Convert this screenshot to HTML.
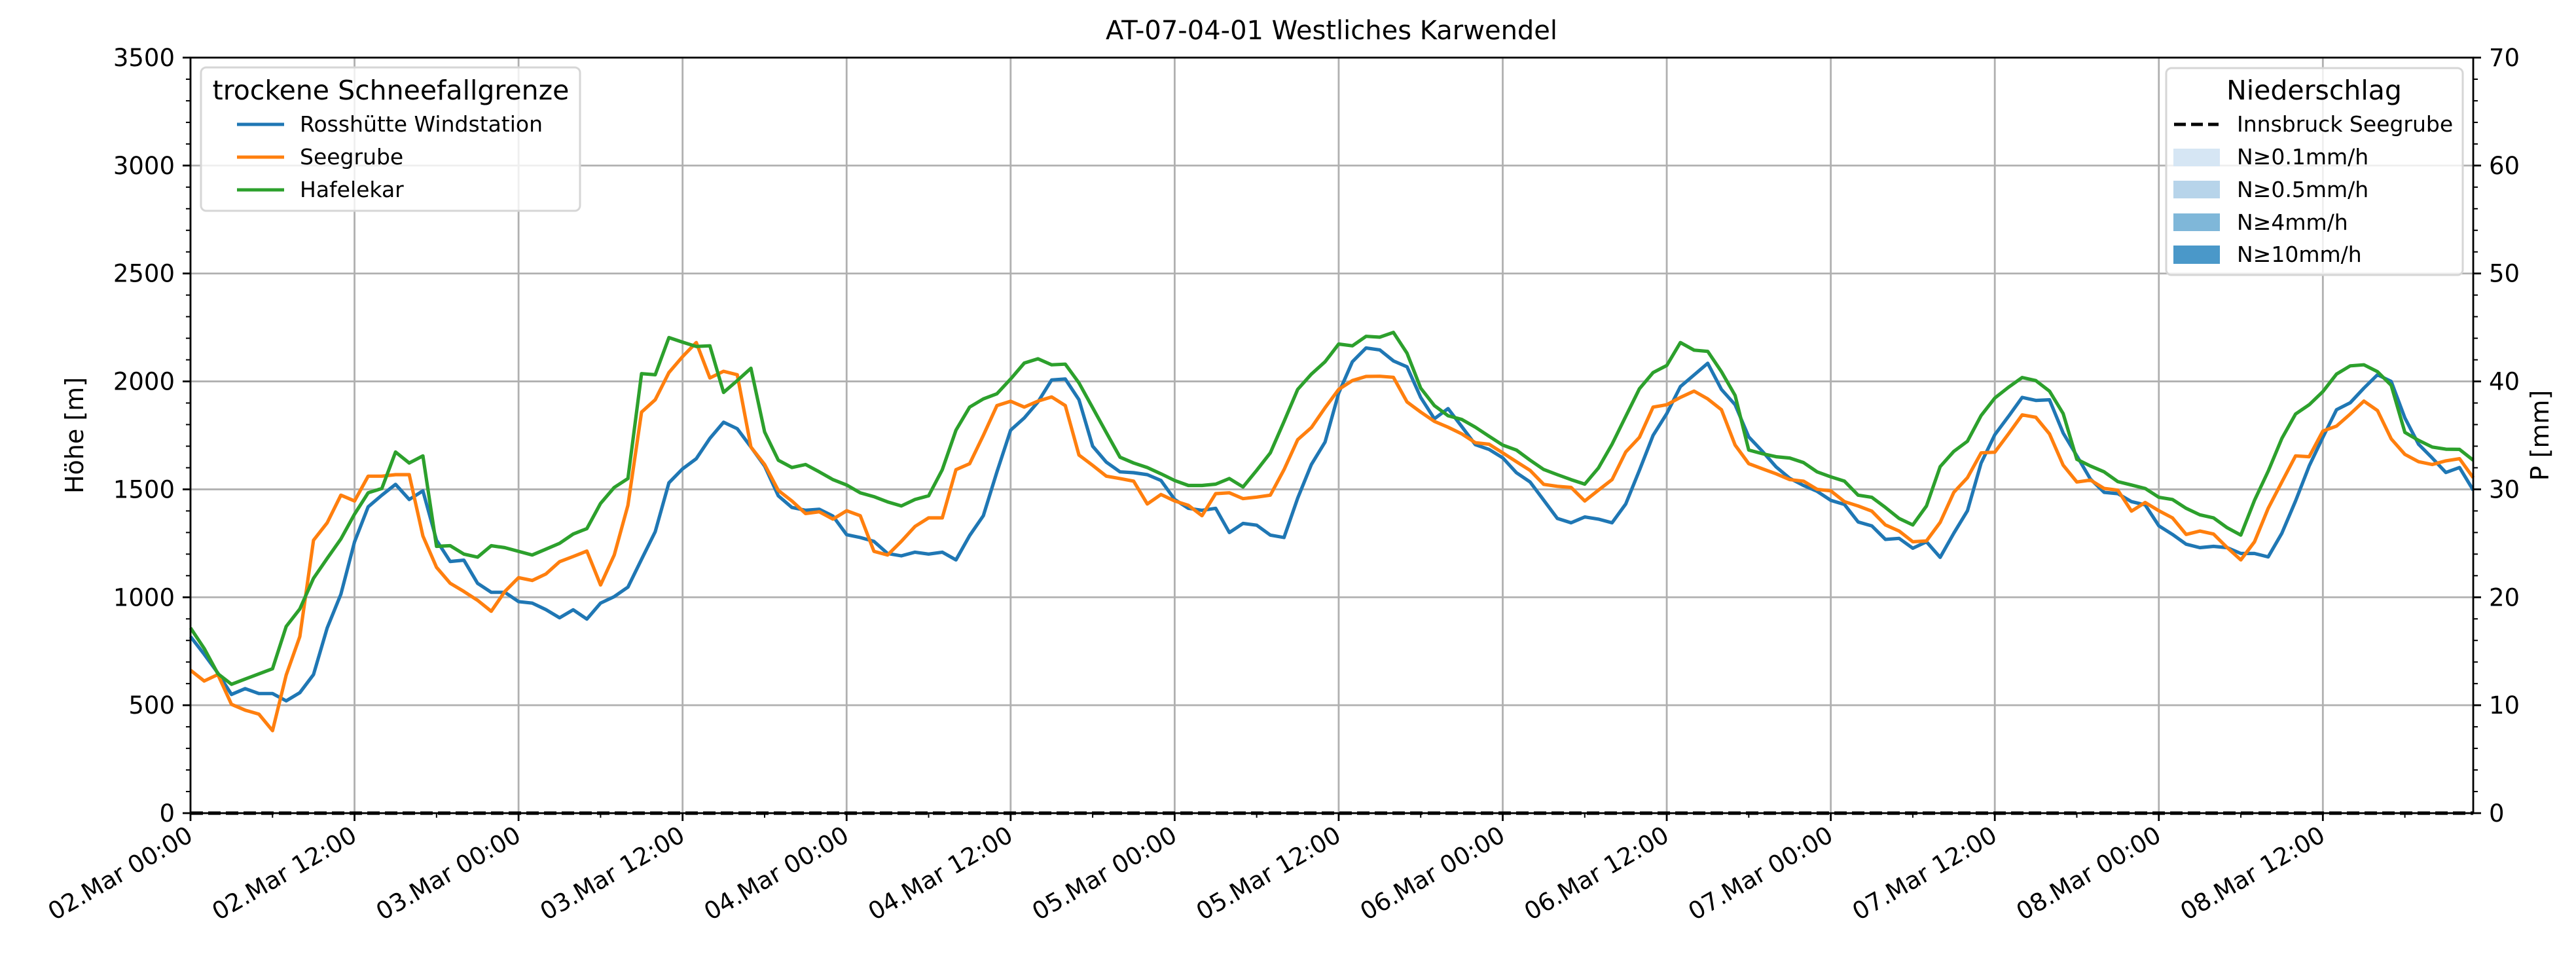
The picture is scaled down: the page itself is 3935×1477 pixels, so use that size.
<!DOCTYPE html>
<html><head><meta charset="utf-8"><title>AT-07-04-01 Westliches Karwendel</title>
<style>
html,body{margin:0;padding:0;background:#fff;}
svg{display:block;font-family:"DejaVu Sans","Liberation Sans",sans-serif;}
</style></head>
<body>
<svg id="chart" width="3935" height="1477" viewBox="0 0 3935 1477" xmlns="http://www.w3.org/2000/svg">
<rect x="0" y="0" width="3935" height="1477" fill="#fff"/>
<g id="grid"></g>
<g id="series"></g>
<g id="axes"></g>
<text x="2034" y="60" font-size="40" text-anchor="middle">AT-07-04-01 Westliches Karwendel</text>
<text x="0" y="0" font-size="38" text-anchor="middle" transform="translate(127,665) rotate(-90)">Höhe [m]</text>
<text x="0" y="0" font-size="38" text-anchor="middle" transform="translate(3893,665) rotate(-90)">P [mm]</text>

<g>
<rect x="307" y="103" width="579" height="219" rx="8" fill="#fff" fill-opacity="0.8" stroke="#d6d6d6" stroke-width="3"/>
<text x="597" y="152" font-size="41" text-anchor="middle">trockene Schneefallgrenze</text>
<g><line x1="362" y1="190" x2="434" y2="190" stroke="#1f77b4" stroke-width="5"/><text x="458" y="201" font-size="33">Rosshütte Windstation</text></g>
<g><line x1="362" y1="240" x2="434" y2="240" stroke="#ff7f0e" stroke-width="5"/><text x="458" y="251" font-size="33">Seegrube</text></g>
<g><line x1="362" y1="290" x2="434" y2="290" stroke="#2ca02c" stroke-width="5"/><text x="458" y="301" font-size="33">Hafelekar</text></g>
</g>

<g>
<rect x="3309" y="104" width="453" height="316" rx="8" fill="#fff" fill-opacity="0.8" stroke="#d6d6d6" stroke-width="3"/>
<text x="3535" y="152" font-size="41" text-anchor="middle">Niederschlag</text>
<g><line x1="3321" y1="190" x2="3389" y2="190" stroke="#000" stroke-width="5" stroke-dasharray="18,8"/><text x="3417" y="201" font-size="33">Innsbruck Seegrube</text></g>
<g><rect x="3320" y="227" width="71" height="27" fill="#d6e6f4"/><text x="3417" y="251" font-size="33">N≥0.1mm/h</text></g>
<g><rect x="3320" y="276" width="71" height="27" fill="#b7d4ea"/><text x="3417" y="301" font-size="33">N≥0.5mm/h</text></g>
<g><rect x="3320" y="326" width="71" height="27" fill="#7fb7d9"/><text x="3417" y="351" font-size="33">N≥4mm/h</text></g>
<g><rect x="3320" y="375" width="71" height="28" fill="#4a98c9"/><text x="3417" y="400" font-size="33">N≥10mm/h</text></g>
</g>
</svg>
<script>
const xTickLabels = ["02.Mar 00:00","02.Mar 12:00","03.Mar 00:00","03.Mar 12:00","04.Mar 00:00","04.Mar 12:00","05.Mar 00:00","05.Mar 12:00","06.Mar 00:00","06.Mar 12:00","07.Mar 00:00","07.Mar 12:00","08.Mar 00:00","08.Mar 12:00"];
const yTicks = [0,500,1000,1500,2000,2500,3000,3500];
const y2Ticks = [0,10,20,30,40,50,60,70];
const rosshuette = [818,736,649,550,577,554,554,520,558,642,858,1014,1257,1419,1473,1523,1453,1493,1264,1166,1172,1065,1023,1023,980,973,943,905,942,899,973,1003,1047,1176,1304,1530,1595,1642,1736,1811,1781,1696,1608,1470,
1416,1403,1408,1376,1290,1277,1259,1203,1192,1209,1200,1209,1173,1286,1378,1581,1774,1831,1905,2007,2011,1915,1700,1626,1581,1577,1568,1541,1453,1412,1403,1412,1300,1342,1334,1288,1277,1459,1615,1719,1946,2091,2155,
2146,2095,2068,1926,1827,1874,1791,1707,1685,1646,1577,1534,1450,1365,1345,1372,1362,1345,1432,1588,1750,1851,1976,2030,2084,1963,1892,1743,1676,1604,1551,1518,1491,1449,1430,1349,1331,1268,1273,1227,1257,1185,1297,
1401,1622,1753,1838,1926,1912,1915,1761,1655,1547,1486,1480,1443,1428,1331,1291,1246,1230,1236,1230,1203,1203,1187,1297,1446,1608,1741,1869,1901,1969,2031,2000,1831,1709,1645,1578,1601,1496];
const seegrube = [662,612,642,504,477,459,382,640,818,1264,1345,1473,1446,1561,1561,1568,1568,1284,1139,1065,1027,986,935,1027,1091,1078,1108,1165,1189,1214,1057,1196,1426,1858,1915,2041,2115,2180,2016,2047,2031,1696,1615,1495,
1446,1388,1396,1362,1401,1378,1213,1196,1259,1328,1368,1368,1591,1619,1750,1888,1908,1881,1909,1928,1888,1659,1611,1561,1550,1538,1432,1476,1446,1426,1378,1480,1484,1457,1464,1473,1591,1730,1786,1878,1963,2004,2023,
2024,2019,1905,1858,1815,1788,1757,1716,1709,1669,1628,1588,1523,1514,1509,1446,1496,1545,1673,1741,1881,1892,1926,1955,1919,1869,1705,1619,1595,1572,1545,1538,1500,1493,1443,1423,1399,1335,1307,1257,1261,1347,1486,
1554,1669,1672,1757,1845,1834,1757,1612,1534,1543,1504,1496,1399,1439,1401,1368,1291,1307,1293,1230,1173,1257,1412,1534,1655,1651,1770,1793,1849,1909,1865,1734,1662,1628,1615,1632,1642,1554];
const hafelekar = [858,763,646,597,621,645,669,865,946,1088,1180,1270,1385,1484,1504,1673,1622,1655,1236,1239,1200,1186,1239,1230,1213,1196,1223,1250,1293,1318,1435,1509,1550,2036,2031,2203,2182,2162,2165,1949,2004,2061,1766,1635,
1601,1615,1581,1545,1520,1484,1466,1442,1423,1453,1470,1591,1774,1881,1919,1943,2011,2085,2105,2077,2080,1993,1878,1763,1649,1622,1601,1572,1541,1518,1518,1524,1550,1511,1588,1669,1814,1963,2034,2091,2173,2165,2209,
2205,2227,2131,1969,1888,1841,1824,1788,1746,1705,1682,1635,1592,1568,1545,1524,1599,1709,1838,1966,2041,2074,2180,2145,2139,2045,1935,1682,1665,1651,1645,1624,1581,1558,1538,1473,1463,1416,1365,1335,1423,1605,1676,
1723,1842,1923,1973,2018,2004,1955,1851,1639,1608,1581,1536,1520,1504,1463,1453,1412,1382,1368,1322,1288,1449,1584,1736,1849,1892,1953,2034,2072,2077,2045,1982,1764,1727,1696,1686,1685,1635];
const precipInnsbruckSeegrube = [0,0,0,0,0,0,0,0,0,0,0,0,0,0,0,0,0,0,0,0,0,0,0,0,0,0,0,0,0,0,0,0,0,0,0,0,0,0,0,0,0,0,0,0,0,0,0,0,0,0,0,0,0,0,0,0,0,0,0,0,0,0,0,0,0,0,0,0,0,0,0,0,0,0,0,0,0,0,0,0,0,0,0,0,0,0,0,0,0,0,0,0,0,0,0,0,0,0,0,0,0,0,0,0,0,0,0,0,0,0,0,0,0,0,0,0,0,0,0,0,0,0,0,0,0,0,0,0,0,0,0,0,0,0,0,0,0,0,0,0,0,0,0,0,0,0,0,0,0,0,0,0,0,0,0,0,0,0,0,0,0,0,0,0,0,0,0,0];

const NS = "http://www.w3.org/2000/svg";
const L = 291, R = 3778, T = 88, B = 1242;
const hMax = rosshuette.length - 1;
const yMax = 3500, y2Max = 70;
function xS(h){ return L + h * (R - L) / hMax; }
function yS(v){ return B - v * (B - T) / yMax; }
function y2S(v){ return B - v * (B - T) / y2Max; }
function mk(tag, attrs, parent){ const e = document.createElementNS(NS, tag); for (const k in attrs) e.setAttribute(k, attrs[k]); parent.appendChild(e); return e; }

const grid = document.getElementById('grid');
const axes = document.getElementById('axes');
const series = document.getElementById('series');

xTickLabels.forEach((lab, i) => {
  const x = xS(i * 12);
  const g = mk('line', {x1:x, y1:T, x2:x, y2:B, stroke:'#b0b0b0', 'stroke-width':2.8}, grid);
  
  
});
yTicks.forEach(v => {
  const y = yS(v);
  const g = mk('line', {x1:L, y1:y, x2:R, y2:y, stroke:'#b0b0b0', 'stroke-width':2.8}, grid);
  
  
});

function drawLine(data, color, name){
  const d = data.map((v, i) => (i ? 'L' : 'M') + xS(i).toFixed(1) + ',' + yS(v).toFixed(1)).join(' ');
  const p = mk('path', {d:d, fill:'none', stroke:color, 'stroke-width':5.2, 'stroke-linejoin':'round'}, series);
  
  
}
drawLine(rosshuette, '#1f77b4', 'line-rosshuette-windstation');
drawLine(seegrube, '#ff7f0e', 'line-seegrube');
drawLine(hafelekar, '#2ca02c', 'line-hafelekar');
{
  const d = precipInnsbruckSeegrube.map((v, i) => (i ? 'L' : 'M') + xS(i).toFixed(1) + ',' + y2S(v).toFixed(1)).join(' ');
  const p = mk('path', {d:d, fill:'none', stroke:'#000', 'stroke-width':5.2, 'stroke-dasharray':'19,8'}, series);
  
  
}

const fr = mk('rect', {x:L, y:T, width:R-L, height:B-T, fill:'none', stroke:'#000', 'stroke-width':2.8}, axes);



for (let v = 0; v <= yMax; v += 100) {
  const y = yS(v);
  const major = v % 500 === 0;
  mk('line', {x1:L - (major ? 12 : 7), y1:y, x2:L, y2:y, stroke:'#000', 'stroke-width':major ? 2.8 : 2}, axes);
}
yTicks.forEach(v => {
  const t = mk('text', {x:L - 24, y:yS(v) + 13, 'font-size':37, 'text-anchor':'end'}, axes);
  t.textContent = String(v);
  
  
});
for (let v = 0; v <= y2Max; v += 2) {
  const y = y2S(v);
  const major = v % 10 === 0;
  mk('line', {x1:R, y1:y, x2:R + (major ? 12 : 7), y2:y, stroke:'#000', 'stroke-width':major ? 2.8 : 2}, axes);
}
y2Ticks.forEach(v => {
  const t = mk('text', {x:R + 24, y:y2S(v) + 13, 'font-size':37, 'text-anchor':'start'}, axes);
  t.textContent = String(v);
  
  
});
for (let h = 0; h <= hMax; h += 6) {
  const x = xS(h);
  const major = h % 12 === 0;
  mk('line', {x1:x, y1:B, x2:x, y2:B + (major ? 12 : 7), stroke:'#000', 'stroke-width':major ? 2.8 : 2}, axes);
}
xTickLabels.forEach((lab, i) => {
  const x = xS(i * 12);
  const t = mk('text', {x:0, y:0, 'font-size':37, 'text-anchor':'end', transform:'translate(' + (x + 6) + ',' + (B + 41) + ') rotate(-30)'}, axes);
  t.textContent = lab;
  
  
});
</script>
</body></html>
